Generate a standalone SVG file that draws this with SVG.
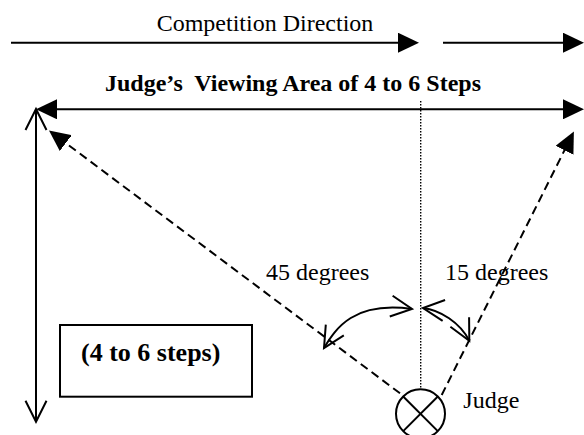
<svg xmlns="http://www.w3.org/2000/svg" width="584" height="435" viewBox="0 0 584 435">
  <style>
    .txt { font-family: "Liberation Serif", "Times New Roman", serif; font-size: 24px; fill: #000; }
    .bold { font-weight: bold; }
    .big { font-size: 26px; }
    .solid { stroke: #000; stroke-width: 2; fill: none; }
    .dashed { stroke: #000; stroke-width: 2; fill: none; stroke-dasharray: 8.5 5; }
    .dotted { stroke: #000; stroke-width: 1.4; fill: none; stroke-dasharray: 1.4 1.6; }
    .box { stroke: #000; stroke-width: 2; fill: #fff; }
  </style>
  <defs>
    <marker id="fillHead" markerUnits="userSpaceOnUse" viewBox="0 0 21 20" markerWidth="21" markerHeight="20" refX="11" refY="10" orient="auto-start-reverse">
      <path d="M0,0 L21,10 L0,20 Z" fill="#000" stroke="none"/>
    </marker>
    <marker id="openHead" markerUnits="userSpaceOnUse" viewBox="-2 -2 26 26" markerWidth="26" markerHeight="26" refX="21" refY="10.5" orient="auto-start-reverse">
      <path d="M0,0 L21,10.5 L0,21" fill="none" stroke="#000" stroke-width="2" stroke-linejoin="miter"/>
    </marker>
  </defs>

  <g id="connectors">
    <line class="solid" x1="11" y1="42.7" x2="409" y2="42.7" marker-end="url(#fillHead)"/>
    <line class="solid" x1="443" y1="42.7" x2="574" y2="42.7" marker-end="url(#fillHead)"/>
    <line class="solid" x1="46" y1="109.3" x2="574" y2="109.3" marker-start="url(#fillHead)" marker-end="url(#fillHead)"/>
    <line class="solid" x1="36" y1="109" x2="36" y2="421.7" marker-start="url(#openHead)" marker-end="url(#openHead)"/>
    <line class="dashed" x1="400" y1="393.3" x2="57" y2="136.5" marker-end="url(#fillHead)"/>
    <line class="dashed" x1="441.7" y1="395" x2="569.4" y2="140.5" marker-end="url(#fillHead)"/>
    <line class="dotted" x1="420.7" y1="101" x2="420.7" y2="389.3"/>
    <path class="solid" d="M324,348 C336,328 354,301 412,309" marker-start="url(#openHead)" marker-end="url(#openHead)"/>
    <path class="solid" d="M423,308 C440,310 460,322.5 469.3,340.7" marker-start="url(#openHead)" marker-end="url(#openHead)"/>
  </g>

  <g id="title-direction">
    <text class="txt" x="156.7" y="30.7">Competition Direction</text>
  </g>
  <g id="title-viewing">
    <text class="txt bold" x="105" y="91" xml:space="preserve">Judge’s  Viewing Area of 4 to 6 Steps</text>
  </g>
  <g id="label-45">
    <text class="txt" x="266" y="279.5">45 degrees</text>
  </g>
  <g id="label-15">
    <text class="txt" x="445" y="280">15 degrees</text>
  </g>
  <g id="steps-box">
    <rect class="box" x="60" y="325" width="192" height="71.7"/>
    <text class="txt bold big" x="81" y="361">(4 to 6 steps)</text>
  </g>
  <g id="judge">
    <circle cx="420.5" cy="413.8" r="24.5" fill="none" stroke="#000" stroke-width="2"/>
    <line class="solid" x1="403.2" y1="396.5" x2="437.8" y2="431.1"/>
    <line class="solid" x1="437.8" y1="396.5" x2="403.2" y2="431.1"/>
    <text class="txt" x="463.3" y="408.3">Judge</text>
  </g>
</svg>
